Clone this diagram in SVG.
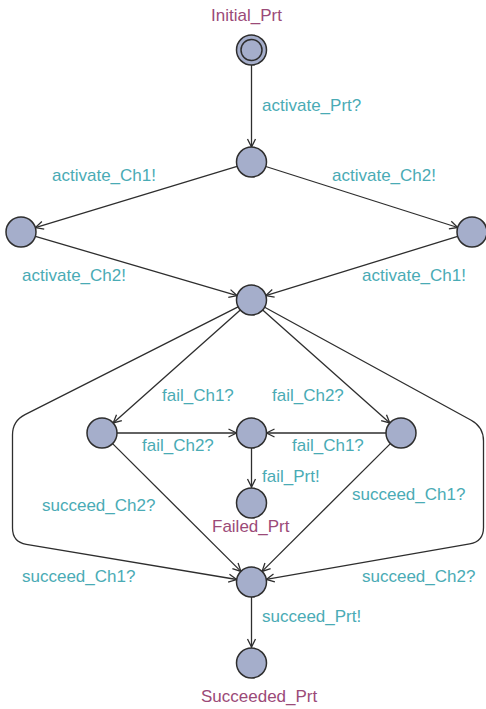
<svg xmlns="http://www.w3.org/2000/svg" width="486" height="709" viewBox="0 0 486 709">
<style>
.node{fill:#a5aecb;stroke:#2e2e2e;stroke-width:1.5}
.edge{fill:none;stroke:#2e2e2e;stroke-width:1.3;marker-end:url(#arr)}
.lbl{font-family:"Liberation Sans",Arial,sans-serif;font-size:17px;fill:#4aabb5}
.name{font-family:"Liberation Sans",Arial,sans-serif;font-size:17px;fill:#9b4a78}
</style>
<defs>
<marker id="arr" viewBox="-10 -6 12 12" refX="0" refY="0" markerWidth="12" markerHeight="12" markerUnits="userSpaceOnUse" orient="auto">
<path d="M-8,-4 L0,0 L-8,4" fill="none" stroke="#2e2e2e" stroke-width="1.3"/>
</marker>
</defs>
<rect width="486" height="709" fill="#ffffff"/>
<g id="connectors">
<path class="edge" d="M251.5,65 L251.5,147"/>
<path class="edge" d="M237.1,166.4 L35.4,227.6"/>
<path class="edge" d="M265.8,166.5 L457.7,227.5"/>
<path class="edge" d="M35.4,236.3 L237.1,295.7"/>
<path class="edge" d="M457.7,236.4 L265.8,295.6"/>
<path class="edge" d="M240.3,310 L113.2,423"/>
<path class="edge" d="M262.7,310 L389.8,423"/>
<path class="edge" d="M117,433 L236.5,433"/>
<path class="edge" d="M386,433 L266.5,433"/>
<path class="edge" d="M251.5,448 L251.5,487"/>
<path class="edge" d="M112.6,443.6 L240.9,571.4"/>
<path class="edge" d="M390.4,443.6 L262.1,571.4"/>
<path class="edge" d="M251.5,597 L251.5,647"/>
<path class="edge" d="M238.1,306.8 L25,414.7 Q12.5,421 12.5,435 L12.5,528 Q12.5,542 26.3,544.3 L236.7,579.5"/>
<path class="edge" d="M264.7,307.2 L471.2,420.3 Q483.5,427 483.5,441 L483.5,527.5 Q483.5,541.5 469.7,543.9 L266.3,579.4"/>
</g>
<g id="Initial_Prt">
<circle class="node" cx="251.5" cy="50" r="15"/>
<circle cx="251.5" cy="50" r="10.5" fill="none" stroke="#2e2e2e" stroke-width="1.5"/>
<text class="name" x="211" y="21">Initial_Prt</text>
</g>
<g id="n_activated"><circle class="node" cx="251.5" cy="162" r="15"/></g>
<g id="n_ch1"><circle class="node" cx="21" cy="232" r="15"/></g>
<g id="n_ch2"><circle class="node" cx="472" cy="232" r="15"/></g>
<g id="n_both"><circle class="node" cx="251.5" cy="300" r="15"/></g>
<g id="n_fail1"><circle class="node" cx="102" cy="433" r="15"/></g>
<g id="n_failboth"><circle class="node" cx="251.5" cy="433" r="15"/></g>
<g id="n_fail2"><circle class="node" cx="401" cy="433" r="15"/></g>
<g id="Failed_Prt">
<circle class="node" cx="251.5" cy="503" r="15"/>
<text class="name" x="212" y="532">Failed_Prt</text>
</g>
<g id="n_succeed"><circle class="node" cx="251.5" cy="582" r="15"/></g>
<g id="Succeeded_Prt">
<circle class="node" cx="251.5" cy="663" r="15"/>
<text class="name" x="201" y="702">Succeeded_Prt</text>
</g>
<g id="labels">
<text class="lbl" x="262" y="111">activate_Prt?</text>
<text class="lbl" x="52" y="181">activate_Ch1!</text>
<text class="lbl" x="332" y="181">activate_Ch2!</text>
<text class="lbl" x="22" y="281">activate_Ch2!</text>
<text class="lbl" x="362" y="281">activate_Ch1!</text>
<text class="lbl" x="162" y="401">fail_Ch1?</text>
<text class="lbl" x="272" y="401">fail_Ch2?</text>
<text class="lbl" x="142" y="451">fail_Ch2?</text>
<text class="lbl" x="292" y="451">fail_Ch1?</text>
<text class="lbl" x="262" y="482">fail_Prt!</text>
<text class="lbl" x="42" y="511">succeed_Ch2?</text>
<text class="lbl" x="352" y="500">succeed_Ch1?</text>
<text class="lbl" x="22" y="582">succeed_Ch1?</text>
<text class="lbl" x="362" y="582">succeed_Ch2?</text>
<text class="lbl" x="262" y="622">succeed_Prt!</text>
</g>
</svg>
